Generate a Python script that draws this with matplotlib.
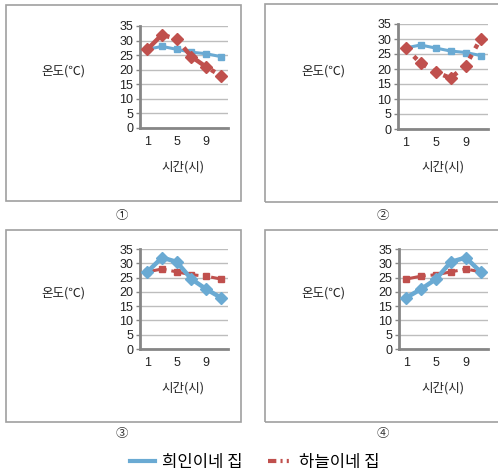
import matplotlib
matplotlib.use('Agg')
import matplotlib.pyplot as plt
from matplotlib.patches import Rectangle
from matplotlib.lines import Line2D

plt.rcParams['font.family'] = ['Noto Sans CJK KR', 'DejaVu Sans']

W, H = 498, 475

hours = [1, 3, 5, 7, 9, 11]
x_ticks = [1, 5, 9]
y_ticks = [0, 5, 10, 15, 20, 25, 30, 35]

# 희인이네 집 (blue) / 하늘이네 집 (red) for each option
blue_1 = [27, 28, 27, 26, 25.5, 24.5]
red_1 = [27, 32, 30.5, 24.5, 21, 18]
blue_2 = [27, 28, 27, 26, 25.5, 24.5]
red_2 = [27, 22, 19, 17, 21, 30]
blue_3 = [27, 32, 30.5, 24.5, 21, 18]
red_3 = [27, 28, 27, 26, 25.5, 24.5]
blue_4 = [18, 21, 24.5, 30.5, 32, 27]
red_4 = [24.5, 25.5, 26, 27, 28, 27]

labels = ['①', '②', '③', '④']
series_names = ['희인이네 집', '하늘이네 집']

BLUE = '#6aaad3'
RED = '#c0504d'
NUM_FONT = ['Liberation Sans', 'Noto Sans CJK KR']

fig = plt.figure(figsize=(W / 100, H / 100), dpi=100)


def fx(px):
    return px / W


def fy(py):
    return 1 - py / H


def box(x0, y0, x1, y1):
    fig.patches.append(Rectangle((fx(x0), fy(y1)), fx(x1 - x0), (y1 - y0) / H,
                                 transform=fig.transFigure, fill=False,
                                 ec='#a0a0a0', lw=1.2))


def thin(ax, y, color, ls):
    ax.plot(hours, y, color=color, lw=2.2, ls=ls, marker='s', ms=4.5,
            mec=color, zorder=3)


def thick(ax, y, color, ls):
    ax.plot(hours, y, color=color, lw=3.2, ls=ls, marker='D', ms=6.5,
            mec=color, zorder=4)


# panel layouts in pixels: box, axes (left, top, right, bottom), label pos
panels = [
    dict(box=(6, 5, 241, 201), ax=(140, 26, 228, 128), num=(122, 215),
         ylab=(63, 71), xlab=(183, 167)),
    dict(box=(265, 4, 502, 202), ax=(398, 24, 488, 129), num=(383, 216),
         ylab=(323, 71), xlab=(443, 167)),
    dict(box=(6, 230, 241, 422), ax=(140, 249, 228, 349), num=(122, 433),
         ylab=(63, 293), xlab=(183, 388)),
    dict(box=(265, 230, 502, 422), ax=(399, 249, 488, 349), num=(383, 433),
         ylab=(323, 293), xlab=(443, 388)),
]

data = [(blue_1, red_1), (blue_2, red_2), (blue_3, red_3), (blue_4, red_4)]

for i, p in enumerate(panels):
    box(*p['box'])
    l, t, r, b = p['ax']
    ax = fig.add_axes([fx(l), fy(b), fx(r - l), (b - t) / H])
    ax.set_xlim(0, 12)
    ax.set_ylim(0, 35)
    ax.set_yticks(y_ticks)
    ax.set_xticks(x_ticks)
    ax.grid(axis='y', color='#bdbdbd', lw=1)
    ax.set_axisbelow(True)
    for s in ['top', 'right']:
        ax.spines[s].set_visible(False)
    for s in ['left', 'bottom']:
        ax.spines[s].set_color('#868686')
        ax.spines[s].set_linewidth(2)
    ax.tick_params(axis='y', length=3, width=1, color='#868686',
                   labelsize=9, pad=2, labelcolor='#222222')
    ax.tick_params(axis='x', length=0, labelsize=9, pad=6,
                   labelcolor='#222222')
    for lab in ax.get_xticklabels() + ax.get_yticklabels():
        lab.set_family(NUM_FONT)
    blue, red = data[i]
    if i == 0:
        thin(ax, blue, BLUE, '-')
        thick(ax, red, RED, '-.')
    elif i == 1:
        thin(ax, blue, BLUE, '-')
        thick(ax, red, RED, ':')
    else:
        thin(ax, red, RED, '-.')
        thick(ax, blue, BLUE, '-')

    fig.text(fx(p['ylab'][0]), fy(p['ylab'][1]), '온도(℃)', ha='center',
             va='center', fontsize=9, color='#222222')
    fig.text(fx(p['xlab'][0]), fy(p['xlab'][1]), '시간(시)', ha='center',
             va='center', fontsize=9, color='#222222')
    fig.text(fx(p['num'][0]), fy(p['num'][1]), labels[i], ha='center',
             va='center', fontsize=9, color='#333333')

# legend
handles = [
    Line2D([], [], color=BLUE, lw=3),
    Line2D([], [], color=RED, lw=3, ls=(0, (2, 1, 0.5, 1, 0.5, 1))),
]
fig.legend(handles, series_names, loc='center', ncol=2,
           bbox_to_anchor=(fx(255), fy(462)), frameon=False, fontsize=12,
           handlelength=1.5, handletextpad=0.4, columnspacing=1.5)

fig.savefig('out.png', dpi=100)
